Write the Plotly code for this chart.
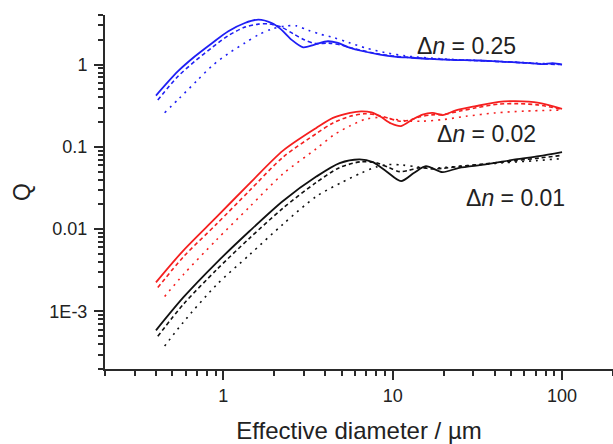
import math
import plotly.graph_objects as go

# ---------------- data ----------------
# Δn = 0.25 (blue)
x_blue_solid = [0.40, 0.54, 0.68, 0.86, 1.07, 1.34, 1.61, 1.93, 2.2, 2.52, 2.96, 3.46, 4.14, 4.75, 5.56, 8.4, 10.5, 13, 16.4, 22, 32.3, 42, 50.6, 62, 76, 88, 100]
y_blue_solid = [0.42, 0.83, 1.26, 1.83, 2.54, 3.2, 3.52, 3.2, 2.66, 2.01, 1.62, 1.75, 1.92, 1.83, 1.6, 1.32, 1.24, 1.21, 1.17, 1.14, 1.12, 1.09, 1.07, 1.05, 1.01, 1.04, 1.0]

x_blue_dash = [0.41, 0.54, 0.68, 0.86, 1.07, 1.34, 1.61, 1.85, 2.2, 2.6, 3.0, 3.5, 4.2, 5.0, 6.0, 8.0, 10, 16, 30, 50, 76, 100]
y_blue_dash = [0.37, 0.72, 1.1, 1.62, 2.25, 2.85, 3.1, 3.12, 2.85, 2.35, 2.0, 1.8, 1.82, 1.72, 1.55, 1.36, 1.27, 1.18, 1.12, 1.07, 1.02, 1.0]

x_blue_dot = [0.45, 0.55, 0.7, 0.86, 1.07, 1.34, 1.61, 1.93, 2.3, 2.7, 3.2, 3.7, 4.5, 5.5, 7, 9, 12, 20, 40, 70, 100]
y_blue_dot = [0.26, 0.39, 0.64, 0.97, 1.36, 1.83, 2.3, 2.7, 2.93, 2.95, 2.6, 2.35, 2.12, 1.85, 1.58, 1.4, 1.27, 1.17, 1.1, 1.04, 1.01]

# Δn = 0.02 (red)
x_red_solid = [0.40, 0.58, 0.91, 1.43, 2.25, 3.54, 4.44, 5.6, 6.5, 7.5, 8.5, 9.8, 11.2, 13.1, 15.0, 17.2, 19.7, 23.6, 30.9, 42.4, 53, 73, 100]
y_red_solid = [0.00226, 0.0055, 0.014, 0.036, 0.090, 0.17, 0.225, 0.259, 0.27, 0.262, 0.232, 0.192, 0.179, 0.215, 0.247, 0.259, 0.243, 0.277, 0.312, 0.352, 0.359, 0.343, 0.29]

x_red_dash = [0.41, 0.58, 0.91, 1.43, 2.25, 3.54, 4.44, 5.6, 6.8, 8.0, 9.5, 11, 12.5, 14.5, 17, 20, 25, 31, 42, 55, 73, 100]
y_red_dash = [0.00195, 0.0046, 0.0115, 0.0295, 0.075, 0.145, 0.195, 0.235, 0.252, 0.245, 0.222, 0.205, 0.21, 0.232, 0.245, 0.248, 0.272, 0.298, 0.33, 0.335, 0.322, 0.285]

x_red_dot = [0.45, 0.58, 0.91, 1.43, 2.25, 3.54, 4.5, 5.6, 7.0, 8.5, 10, 12, 15, 20, 27, 40, 60, 100]
y_red_dot = [0.00152, 0.0028, 0.0074, 0.0187, 0.047, 0.095, 0.14, 0.18, 0.218, 0.228, 0.218, 0.207, 0.205, 0.215, 0.235, 0.258, 0.272, 0.28]

# Δn = 0.01 (black)
x_black_solid = [0.40, 0.58, 0.91, 1.43, 2.25, 3.54, 4.86, 6.38, 7.63, 9.15, 11.2, 13.4, 15.7, 19.7, 24.7, 35.4, 53, 73, 100]
y_black_solid = [5.9e-4, 0.00148, 0.0039, 0.0095, 0.022, 0.0435, 0.0635, 0.0703, 0.0652, 0.0507, 0.0384, 0.0485, 0.0583, 0.0493, 0.0557, 0.0611, 0.0703, 0.0771, 0.0862]

x_black_dash = [0.41, 0.58, 0.91, 1.43, 2.25, 3.54, 4.86, 6.5, 8.0, 9.5, 11, 12.5, 14.5, 17, 20, 25, 35, 53, 73, 100]
y_black_dash = [5.0e-4, 0.00122, 0.0032, 0.0078, 0.018, 0.037, 0.056, 0.066, 0.064, 0.056, 0.05, 0.052, 0.056, 0.054, 0.055, 0.058, 0.062, 0.068, 0.073, 0.079]

x_black_dot = [0.45, 0.58, 0.91, 1.43, 2.25, 3.54, 5.0, 6.5, 8.0, 9.5, 11.5, 14, 17, 22, 30, 45, 70, 100]
y_black_dot = [3.8e-4, 7.4e-4, 0.0021, 0.0049, 0.0115, 0.025, 0.037, 0.048, 0.057, 0.061, 0.06, 0.057, 0.055, 0.057, 0.06, 0.064, 0.068, 0.072]

# tick values and labels
x_tickvals = [1, 10, 100]
x_ticktext = ["1", "10", "100"]
y_tickvals = [0.001, 0.01, 0.1, 1]
y_ticktext = ["1E-3", "0.01", "0.1", "1"]
minor_digits = [2, 3, 4, 5, 6, 7, 8, 9]
x_minor_decades = [0.1, 1, 10, 100]
y_minor_decades = [1e-4, 1e-3, 1e-2, 1e-1, 1]

labels = ["0.25", "0.02", "0.01"]

# ---------------- figure ----------------
BLUE = "#1f1ff5"
RED = "#f51f1f"
BLACK = "#111111"
DASH = "4px,3px"
DOT = "2px,5px"

series = [
    (x_blue_solid, y_blue_solid, BLUE, "solid"),
    (x_blue_dash, y_blue_dash, BLUE, DASH),
    (x_blue_dot, y_blue_dot, BLUE, DOT),
    (x_red_solid, y_red_solid, RED, "solid"),
    (x_red_dash, y_red_dash, RED, DASH),
    (x_red_dot, y_red_dot, RED, DOT),
    (x_black_solid, y_black_solid, BLACK, "solid"),
    (x_black_dash, y_black_dash, BLACK, DASH),
    (x_black_dot, y_black_dot, BLACK, DOT),
]

fig = go.Figure()
for xs, ys, col, dash in series:
    fig.add_trace(go.Scatter(
        x=xs, y=ys, mode="lines",
        line=dict(color=col, width=1.8 if dash == "solid" else 1.6, dash=dash,
                  shape="spline", smoothing=0.8),
        showlegend=False, hoverinfo="skip",
    ))

FONT = "Arial, Liberation Sans, sans-serif"
AX = "#2a2a2a"
TXT = "#222222"

fig.update_layout(
    width=613, height=444,
    margin=dict(l=105, r=0, t=15, b=75),
    paper_bgcolor="white", plot_bgcolor="white",
    font=dict(family=FONT, color=TXT),
    showlegend=False,
)

common = dict(
    type="log", showgrid=False, zeroline=False, automargin=False,
    showline=True, linecolor=AX, linewidth=2,
    ticks="outside", ticklen=9, tickwidth=1.5, tickcolor=AX,
    tickmode="array",
    tickfont=dict(size=18, family=FONT, color=TXT),
)

x_minor = [d * m for d in x_minor_decades for m in minor_digits]
y_minor = [d * m for d in y_minor_decades for m in minor_digits]

fig.update_xaxes(
    range=[math.log10(0.2), math.log10(200)],
    tickvals=x_tickvals, ticktext=x_ticktext,
    minor=dict(tickmode="array", tickvals=x_minor, ticks="outside", ticklen=5,
               tickwidth=1.5, tickcolor=AX, showgrid=False),
    title=dict(text="Effective diameter / µm", font=dict(size=24, family=FONT, color=TXT), standoff=20),
    **common,
)
fig.update_yaxes(
    range=[math.log10(2e-4), math.log10(4)],
    tickvals=y_tickvals, ticktext=y_ticktext, ticklabelstandoff=3,
    minor=dict(tickmode="array", tickvals=y_minor, ticks="outside", ticklen=5,
               tickwidth=1.5, tickcolor=AX, showgrid=False),
    title=dict(text="Q", font=dict(size=23, family=FONT, color=TXT), standoff=12),
    **common,
)

ann_pos = [(466, 46), (486, 134), (515, 198)]
for lab, (px, py) in zip(labels, ann_pos):
    fig.add_annotation(
        text="Δ<i>n</i> = " + lab,
        xref="paper", yref="paper",
        x=(px - 105) / 508, y=1 - (py - 15) / 354,
        xanchor="center", yanchor="middle", showarrow=False,
        font=dict(size=23, family=FONT, color=TXT),
    )

fig.write_html(
    "out.html",
    config={"displayModeBar": False},
    post_script="document.body.style.margin='0';document.body.style.padding='0';",
)
